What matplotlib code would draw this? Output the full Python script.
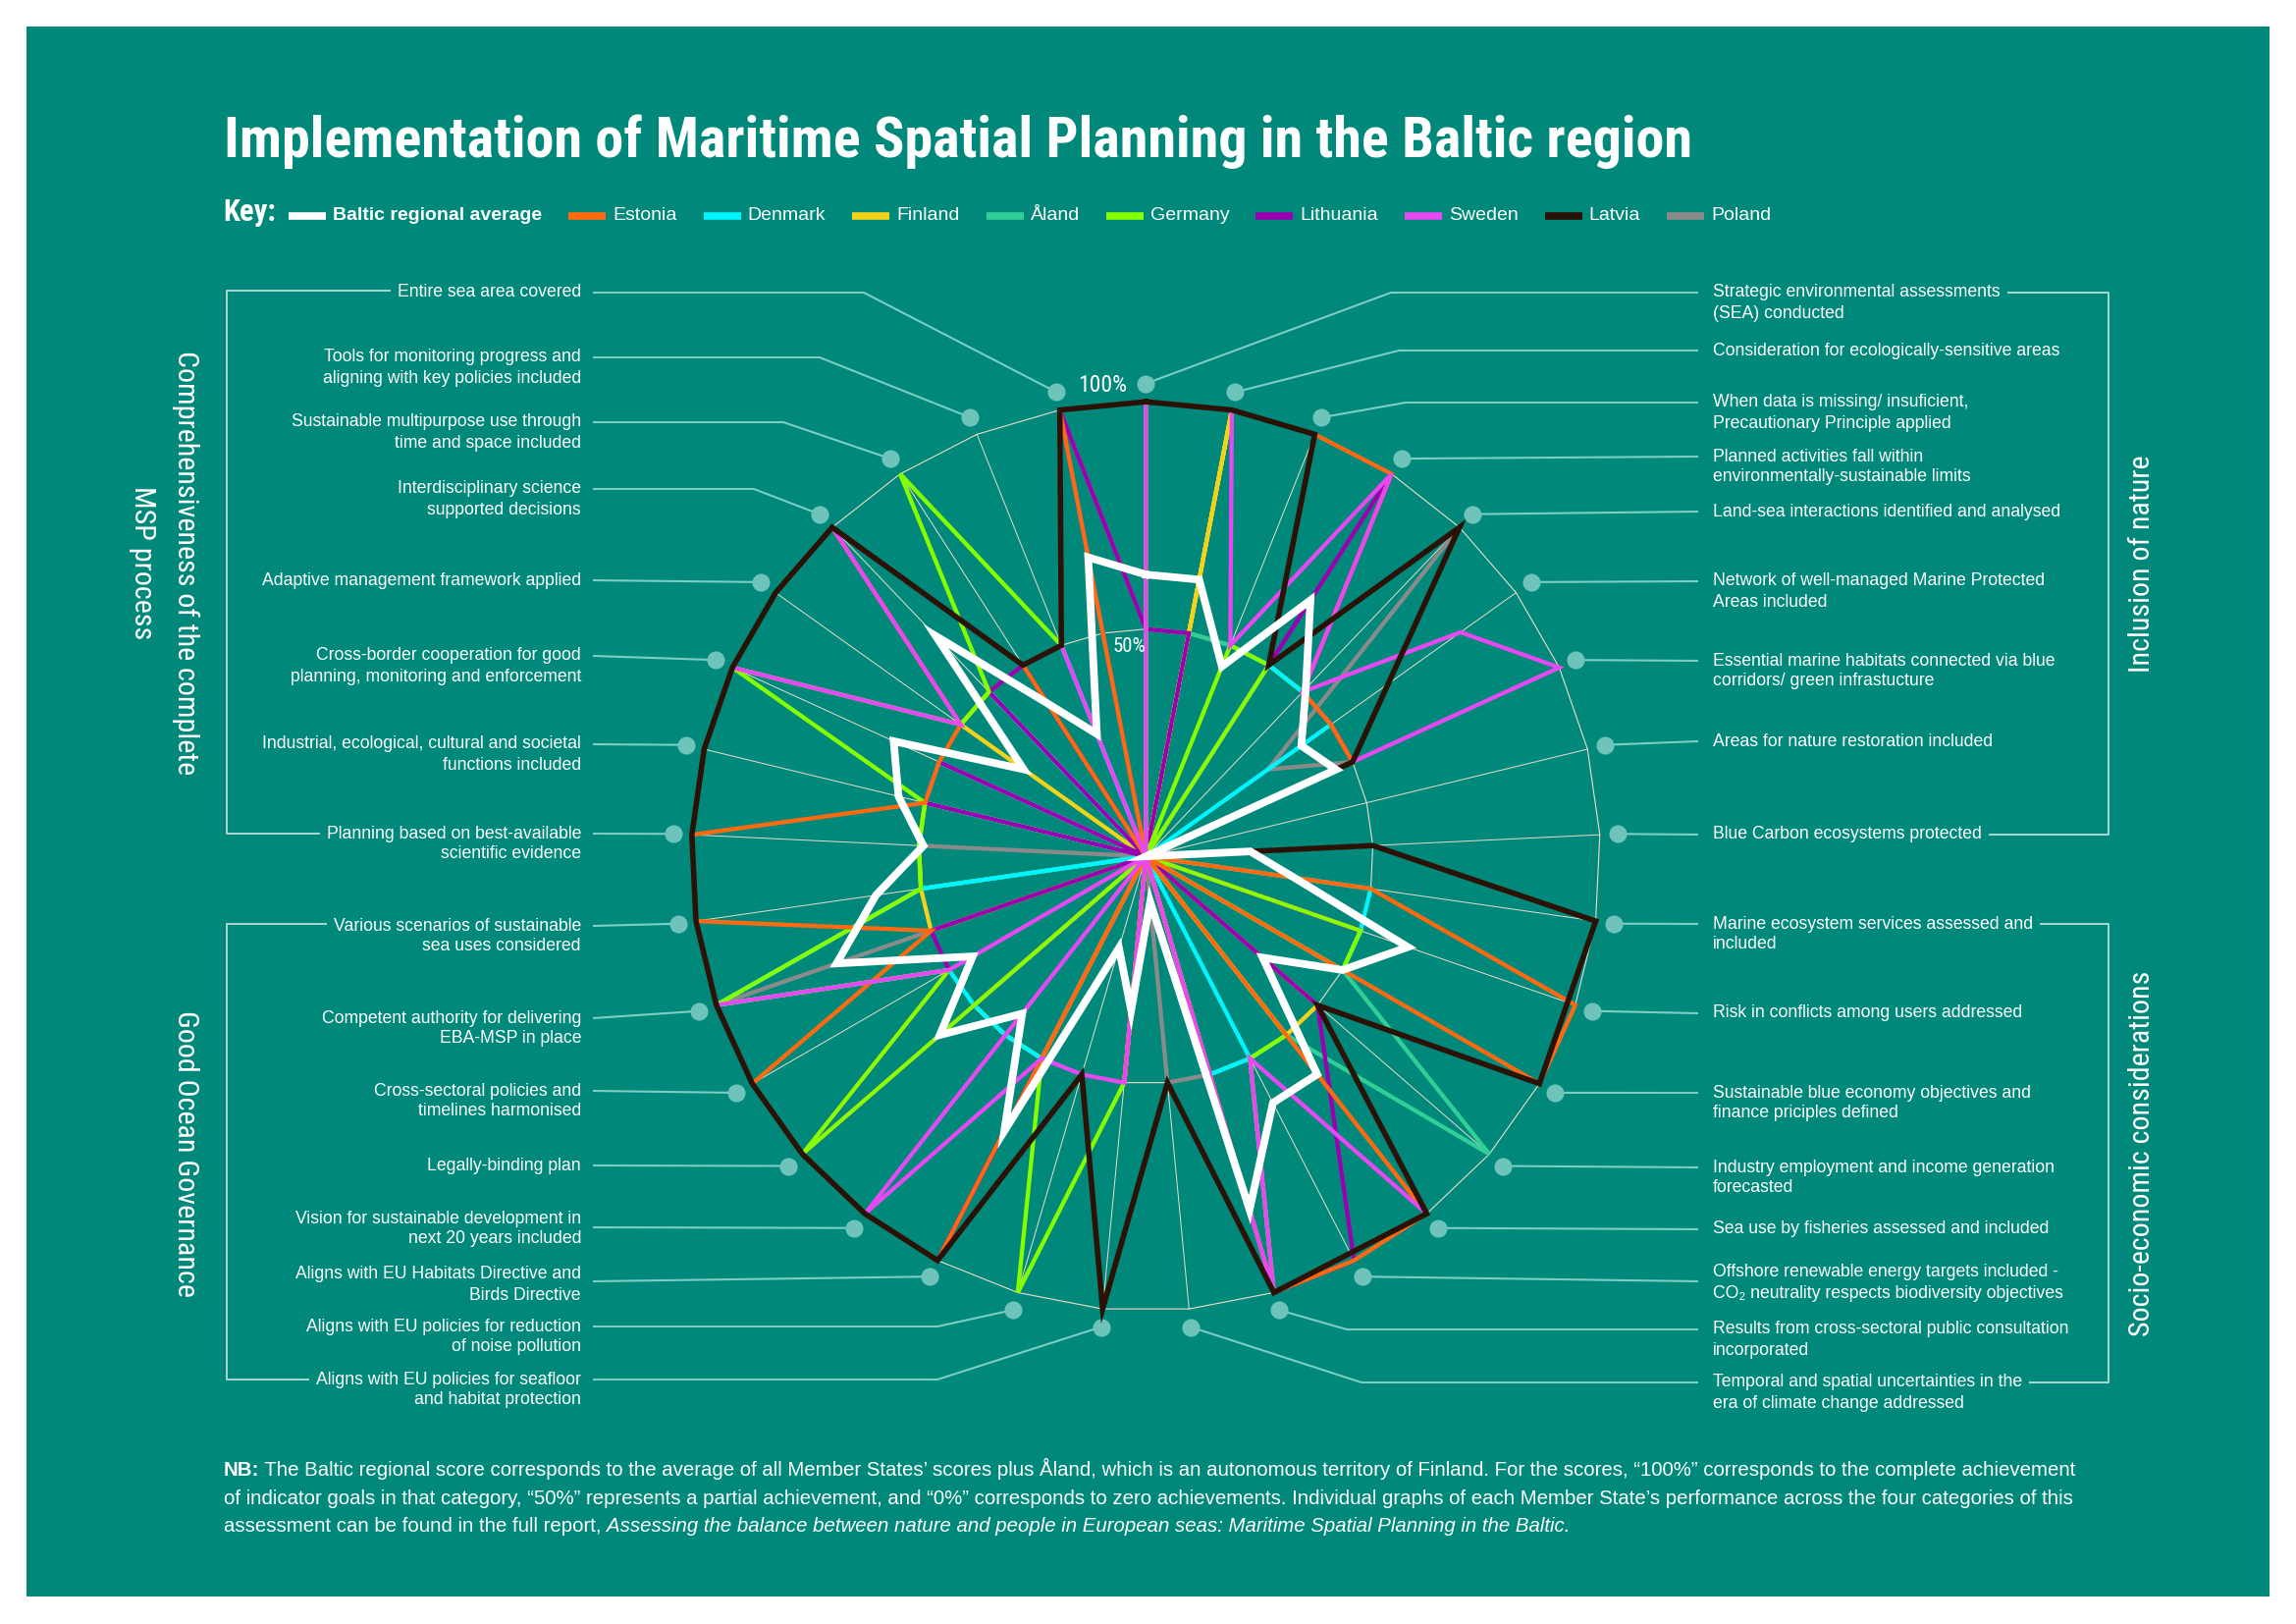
import numpy as np
import matplotlib
matplotlib.use("Agg")
import matplotlib.pyplot as plt
from matplotlib import font_manager
from matplotlib.patches import Rectangle

nan = float("nan")

# ---------------- data ----------------
title = "Implementation of Maritime Spatial Planning in the Baltic region"

categories = [
    "Strategic environmental assessments\n(SEA) conducted",
    "Consideration for ecologically-sensitive areas",
    "When data is missing/ insuficient,\nPrecautionary Principle applied",
    "Planned activities fall within\nenvironmentally-sustainable limits",
    "Land-sea interactions identified and analysed",
    "Network of well-managed Marine Protected\nAreas included",
    "Essential marine habitats connected via blue\ncorridors/ green infrastucture",
    "Areas for nature restoration included",
    "Blue Carbon ecosystems protected",
    "Marine ecosystem services assessed and\nincluded",
    "Risk in conflicts among users addressed",
    "Sustainable blue economy objectives and\nfinance priciples defined",
    "Industry employment and income generation\nforecasted",
    "Sea use by fisheries assessed and included",
    "Offshore renewable energy targets included -\nCO\u2082 neutrality respects biodiversity objectives",
    "Results from cross-sectoral public consultation\nincorporated",
    "Temporal and spatial uncertainties in the\nera of climate change addressed",
    "Aligns with EU policies for seafloor\nand habitat protection",
    "Aligns with EU policies for reduction\nof noise pollution",
    "Aligns with EU Habitats Directive and\nBirds Directive",
    "Vision for sustainable development in\nnext 20 years included",
    "Legally-binding plan",
    "Cross-sectoral policies and\ntimelines harmonised",
    "Competent authority for delivering\nEBA-MSP in place",
    "Various scenarios of sustainable\nsea uses considered",
    "Planning based on best-available\nscientific evidence",
    "Industrial, ecological, cultural and societal\nfunctions included",
    "Cross-border cooperation for good\nplanning, monitoring and enforcement",
    "Adaptive management framework applied",
    "Interdisciplinary science\nsupported decisions",
    "Sustainable multipurpose use through\ntime and space included",
    "Tools for monitoring progress and\naligning with key policies included",
    "Entire sea area covered",
]

series_names = ["Baltic regional average", "Estonia", "Denmark", "Finland", "\u00c5land",
                "Germany", "Lithuania", "Sweden", "Latvia", "Poland"]

baltic_average = [0.62, 0.62, 0.45, 0.67, 0.51, 0.42, 0.46, 0.0, 0.23, 0.33, 0.61,
                  0.50, 0.34, 0.61, 0.61, 0.81, 0.10, 0.34, 0.21, 0.68, 0.44, 0.60,
                  0.44, 0.72, 0.60, 0.49, 0.56, 0.61, 0.33, 0.67, 0.40, 0.29, 0.67]
estonia = [1, 1, 1, 1, .5, .5, .5, 0, 0, .5, 1, 1, 0, 1, 1, 1, 0, .5, 0, 1, 1, 1,
           1, .5, 1, 1, .5, .5, .5, 1, .5, 0, 1]
denmark = [0, 0, 0, .5, .5, .5, 0, 0, 0, .5, .5, .5, 0, 0, .5, .5, 0, 0, 0, .5, .5, .5,
           .5, 1, .5, 0, .5, .5, 0, .5, 0, .5, 1]
finland = [0, 1, 0, .5, .5, .5, .5, 0, 0, 0, .5, 0, .5, .5, 0, .5, 0, .5, 0, .5, .5, .5,
           0, .5, .5, .5, .5, 0, .5, .5, 0, 0, 0]
aland = [.5, .5, .5, .5, 0, 0, 0, 0, .5, 0, .5, .5, 1, .5, .5, .5, 0, 0, 0, .5, 0, 0,
         0, 0, .5, 0, .5, .5, 0, .5, 0, 0, 0]
germany = [1, 0, .5, .5, 0, 0, .5, 0, .5, 0, .5, .5, 0, .5, .5, 1, 0, .5, 1, .5, 0, 1,
           .5, 1, .5, .5, .5, 1, .5, .5, 1, .5, 1]
lithuania = [.5, .5, 0, 1, .5, .5, .5, 0, 0, 0, .5, 0, .5, nan, 1, 1, 0, 0, 0, 1, 0, 1,
             .5, .5, 0, 0, .5, .5, 0, .5, .5, 0, 1]
sweden = [1, 1, .5, 1, .5, .85, 1, 0, .5, 1, nan, 1, .5, 1, .5, 1, 0, .5, .5, .5, 1, 0,
          .5, 1, 1, 1, 1, 1, .5, 1, .5, .5, 0]
latvia = [1, 1, 1, .5, 1, nan, .5, 0, .5, 1, nan, 1, .5, 1, nan, 1, .5, 1, .5, 1, 1, 1,
          1, 1, 1, 1, 1, 1, 1, 1, .5, .5, 1]
poland = [.5, .5, .5, .5, 1, .33, .5, 0, 0, 0, 0, 0, 0, .5, .5, .5, .5, 0, 0, .5, 0, .5,
          0, 1, .5, .5, 0, .5, 0, .5, .5, .5, 1]

series_values = [baltic_average, estonia, denmark, finland, aland, germany,
                 lithuania, sweden, latvia, poland]

section_titles = ["Comprehensiveness of the complete", "MSP process",
                  "Good Ocean Governance", "Inclusion of nature",
                  "Socio-economic considerations"]
scale_labels = ["100%", "50%"]

note_bold = "NB:"
note_line1 = (" The Baltic regional score corresponds to the average of all Member States\u2019 "
              "scores plus \u00c5land, which is an autonomous territory of Finland. For the scores, "
              "\u201c100%\u201d corresponds to the complete achievement")
note_line2 = ("of indicator goals in that category, \u201c50%\u201d represents a partial achievement, "
              "and \u201c0%\u201d corresponds to zero achievements. Individual graphs of each Member "
              "State\u2019s performance across the four categories of this")
note_line3 = "assessment can be found in the full report, "
note_line3_it = ("Assessing the balance between nature and people in European seas: "
                 "Maritime Spatial Planning in the Baltic.")

# ---------------- style / layout ----------------
series_colors = ["#ffffff", "#ff6a10", "#00f5ff", "#f3d21c", "#2fcf97", "#86ff00",
                 "#9a00b0", "#e648f2", "#2b1206", "#8a8a8a"]
series_widths = [5.6, 3.1, 3.1, 3.1, 3.1, 3.1, 3.1, 3.1, 4.0, 3.1]
draw_order = [9, 4, 3, 2, 6, 5, 1, 7, 8, 0]

W, H = 2339, 1654
BG = "#00897b"
GRID = "#eddccc"
LEAD = "#7ccdc4"
DOT = "#6ec4bb"
BRACKET = "#a9dad4"
CX, CY, R100, LIM = 1167.3, 872.2, 463.0, 1.12
DOT_R = 1.04
LINE = 21

label_first_y = {0: 298, 1: 357, 2: 410, 3: 465, 4: 521, 5: 592, 6: 673, 7: 755,
                 8: 850, 9: 941, 10: 1032, 11: 1113, 12: 1189, 13: 1252, 14: 1296,
                 15: 1354, 16: 1408, 17: 1405, 18: 1351, 19: 1298, 20: 1241, 21: 1187,
                 22: 1111, 23: 1037, 24: 943, 25: 849, 26: 758, 27: 668, 28: 591,
                 29: 498, 30: 430, 31: 364, 32: 298}
leader_y_override = {14: 1305, 19: 1305, 20: 1250}
elbow_x = {0: 1417, 1: 1425, 2: 1432, 15: 1372, 16: 1387, 17: 955, 18: 955,
           29: 768, 30: 798, 31: 835, 32: 880}

installed = {f.name for f in font_manager.fontManager.ttflist}


def pick(cands, default):
    for c in cands:
        if c in installed:
            return c
    return default


COND = pick(["Liberation Sans Narrow", "Roboto Condensed", "DejaVu Sans Condensed"],
            "Liberation Sans")
SANS = [pick(["Liberation Sans", "Arial"], "DejaVu Sans"), "DejaVu Sans"]

fig = plt.figure(figsize=(W / 100, H / 100), dpi=100)
fig.patch.set_facecolor("white")
ax0 = fig.add_axes([0, 0, 1, 1])
ax0.set_xlim(0, W)
ax0.set_ylim(H, 0)
ax0.axis("off")
ax0.set_zorder(0)
ax0.add_patch(Rectangle((27, 27), 2285, 1599, facecolor=BG, edgecolor="none"))

half = R100 * LIM
ax = fig.add_axes([(CX - half) / W, (H - CY - half) / H, 2 * half / W, 2 * half / H])
ax.set_zorder(1)
ax.patch.set_alpha(0)
ax.set_xlim(-LIM, LIM)
ax.set_ylim(-LIM, LIM)
ax.axis("off")

renderer = fig.canvas.get_renderer()


def wid(t):
    return t.get_window_extent(renderer).width


n = len(categories)
theta = 2 * np.pi * np.arange(n) / n
tc = np.append(theta, theta[0])

# grid
for ring in (0.5, 1.0):
    ax.plot(ring * np.sin(tc), ring * np.cos(tc), color=GRID, lw=0.8, zorder=1)
for t in theta:
    ax.plot([0, np.sin(t)], [0, np.cos(t)], color=GRID, lw=0.7, zorder=1)

# series
for k in draw_order:
    v = np.array(series_values[k], dtype=float)
    m = ~np.isnan(v)
    tt = np.append(theta[m], theta[m][0])
    rr = np.append(v[m], v[m][0])
    ax.plot(rr * np.sin(tt), rr * np.cos(tt), color=series_colors[k],
            lw=series_widths[k], solid_joinstyle="miter", clip_on=False, zorder=3)

# dots
ax.scatter(DOT_R * np.sin(theta), DOT_R * np.cos(theta), s=170, color=DOT,
           linewidths=0, zorder=2, clip_on=False)

# scale labels
ax.text(-0.096, 1.036, scale_labels[0], family=COND, fontsize=17, color="white",
        ha="center", va="center", zorder=5)
ax.text(-0.036, 0.462, scale_labels[1], family=COND, fontsize=15, color="white",
        ha="center", va="center", zorder=5)

# labels + leaders
inv = ax0.transData.inverted()
first_line_w = {}
for i, lab in enumerate(categories):
    lines = lab.split("\n")
    left = i >= 17
    x = 592 if left else 1745
    for j, ln in enumerate(lines):
        tt = ax0.text(x, label_first_y[i] + j * LINE, ln, family=SANS, fontsize=12.7,
                      color="white", ha="right" if left else "left", va="center")
        if j == 0:
            first_line_w[i] = wid(tt)
    dx, dy = inv.transform(ax.transData.transform((DOT_R * np.sin(theta[i]),
                                                   DOT_R * np.cos(theta[i]))))
    ly = leader_y_override.get(i, label_first_y[i])
    x0 = 604 if left else 1730
    xs, ys = [x0], [ly]
    if i in elbow_x:
        xs.append(elbow_x[i])
        ys.append(ly)
    xs.append(dx)
    ys.append(dy)
    ax0.plot(xs, ys, color=LEAD, lw=1.5, solid_capstyle="butt")


# brackets
def bracket_left(i_top, i_bot):
    y0, y1 = label_first_y[i_top], label_first_y[i_bot]
    xa = 592 - first_line_w[i_top] - 8
    xb = 592 - first_line_w[i_bot] - 8
    ax0.plot([xa, 231, 231, xb], [y0 - 2, y0 - 2, y1, y1], color=BRACKET, lw=1.4)


def bracket_right(i_top, i_bot):
    y0, y1 = label_first_y[i_top], label_first_y[i_bot]
    xa = 1745 + first_line_w[i_top] + 8
    xb = 1745 + first_line_w[i_bot] + 8
    ax0.plot([xa, 2148, 2148, xb], [y0, y0, y1, y1], color=BRACKET, lw=1.4)


bracket_left(32, 25)
bracket_left(24, 17)
bracket_right(0, 8)
bracket_right(9, 16)

# section titles (vertical)
t = ax0.text(189, 1175, section_titles[2], family=COND, fontsize=30, color="white",
             rotation=-90, ha="center", va="center")
fs_sec = 30 * 292 / t.get_window_extent(renderer).height
t.set_fontsize(fs_sec)
ax0.text(189, 573, section_titles[0], family=COND, fontsize=fs_sec, color="white",
         rotation=-90, ha="center", va="center")
ax0.text(145, 573, section_titles[1], family=COND, fontsize=fs_sec, color="white",
         rotation=-90, ha="center", va="center")
ax0.text(2182, 574, section_titles[3], family=COND, fontsize=fs_sec, color="white",
         rotation=90, ha="center", va="center")
ax0.text(2182, 1175, section_titles[4], family=COND, fontsize=fs_sec, color="white",
         rotation=90, ha="center", va="center")

# title
tt = ax0.text(228, 160, title, family=COND, weight="bold", fontsize=60, color="white",
              ha="left", va="baseline")
tt.set_fontsize(60 * 1498 / wid(tt))

# key / legend
kt = ax0.text(227, 225, "Key:", family=COND, weight="bold", fontsize=30, color="white",
              ha="left", va="baseline")
kt.set_fontsize(30 * 54 / wid(kt))
lx, ly = 294, 220
for k, name in enumerate(series_names):
    ax0.plot([lx, lx + 38], [ly, ly], color=series_colors[k], lw=5.5,
             solid_capstyle="butt")
    txt = ax0.text(lx + 45, ly, name, family=SANS, fontsize=14, color="white",
                   weight="bold" if k == 0 else "normal", ha="left", va="center")
    lx = lx + 45 + wid(txt) + 27

# note
nb = ax0.text(228, 1503, note_bold, family=SANS, weight="bold", fontsize=14,
              color="white", ha="left", va="baseline")
l1 = ax0.text(228, 1503, note_line1, family=SANS, fontsize=14, color="white",
              ha="left", va="baseline")
fs_note = 14 * 1901 / (wid(nb) + wid(l1))
nb.set_fontsize(fs_note)
l1.set_fontsize(fs_note)
l1.set_x(228 + wid(nb))
ax0.text(228, 1532, note_line2, family=SANS, fontsize=fs_note, color="white",
         ha="left", va="baseline")
l3 = ax0.text(228, 1560, note_line3 + "x", family=SANS, fontsize=fs_note, color="white",
              ha="left", va="baseline")
xw = ax0.text(0, -100, "x", family=SANS, fontsize=fs_note)
w3 = wid(l3) - wid(xw)
xw.remove()
l3.set_text(note_line3)
ax0.text(228 + w3, 1560, note_line3_it, family=SANS, style="italic", fontsize=fs_note,
         color="white", ha="left", va="baseline")

fig.savefig("out.png", dpi=100, facecolor="white")
